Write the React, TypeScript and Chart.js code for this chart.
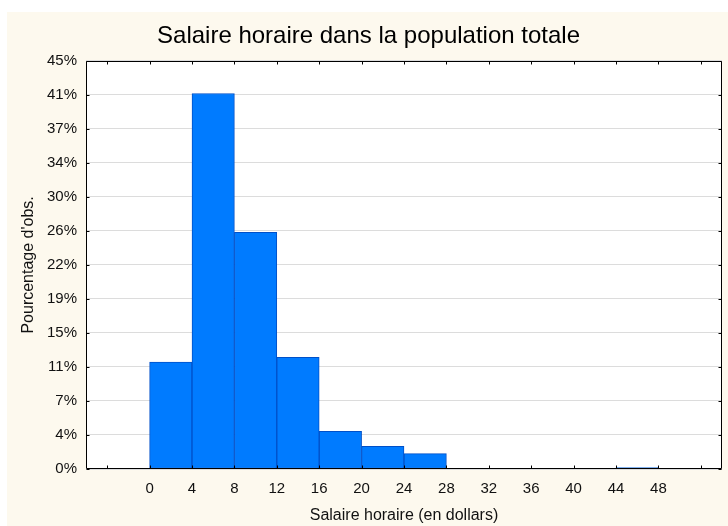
import React, { useEffect, useRef } from 'react';
import { Chart, registerables } from 'chart.js';

Chart.register(...registerables);

const chartTitle = 'Salaire horaire dans la population totale';
const xAxisTitle = 'Salaire horaire (en dollars)';
const yAxisTitle = "Pourcentage d'obs.";

// histogram bins (width 4 dollars), centre of each bin
const binCenters = [-2, 2, 6, 10, 14, 18, 22, 26, 30, 34, 38, 42, 46, 50];
const percentages = [0.05, 11.8, 41.4, 26.1, 12.3, 4.15, 2.5, 1.7, 0.05, 0.05, 0.05, 0.05, 0.15, 0.05];

const xTickValues = [-4, 0, 4, 8, 12, 16, 20, 24, 28, 32, 36, 40, 44, 48, 52];
const xTickLabels = ['', '0', '4', '8', '12', '16', '20', '24', '28', '32', '36', '40', '44', '48', ''];

const yTickValues = [0, 3.75, 7.5, 11.25, 15, 18.75, 22.5, 26.25, 30, 33.75, 37.5, 41.25, 45];
const yTickLabels = ['0%', '4%', '7%', '11%', '15%', '19%', '22%', '26%', '30%', '34%', '37%', '41%', '45%'];

const FONT = '"Liberation Sans", Arial, sans-serif';

const framePlugin = {
  id: 'frame',
  beforeDraw(chart: any) {
    const { ctx, width, height } = chart;
    ctx.save();
    ctx.fillStyle = '#ffffff';
    ctx.fillRect(0, 0, width, height);
    ctx.fillStyle = '#fdf9ee';
    ctx.fillRect(7, 12, width - 7, height - 12);
    const a = chart.chartArea;
    ctx.fillStyle = '#ffffff';
    ctx.fillRect(a.left, a.top, a.right - a.left, a.bottom - a.top);
    ctx.restore();
  },
  afterDraw(chart: any) {
    const { ctx } = chart;
    const a = chart.chartArea;
    const xs = chart.scales.x;
    const ys = chart.scales.y;
    ctx.save();
    ctx.strokeStyle = '#000000';
    ctx.lineWidth = 1;
    const L = Math.round(a.left) + 0.5;
    const R = Math.round(a.right) - 0.5;
    const T = Math.round(a.top) + 0.5;
    const B = Math.round(a.bottom) - 0.5;
    ctx.beginPath();
    ctx.rect(L, T, R - L, B - T);
    ctx.stroke();
    ctx.beginPath();
    for (const v of yTickValues) {
      const y = Math.round(ys.getPixelForValue(v)) + 0.5;
      ctx.moveTo(L, y);
      ctx.lineTo(L + 3, y);
      ctx.moveTo(R, y);
      ctx.lineTo(R - 3, y);
    }
    for (const v of xTickValues) {
      const x = Math.round(xs.getPixelForValue(v)) + 0.5;
      ctx.moveTo(x, T);
      ctx.lineTo(x, T + 3);
      ctx.moveTo(x, B);
      ctx.lineTo(x, B - 3);
    }
    ctx.stroke();
    ctx.restore();
  },
};

export default function App() {
  const ref = useRef<HTMLCanvasElement | null>(null);

  useEffect(() => {
    if (!ref.current) return;
    const chart = new Chart(ref.current, {
      type: 'bar',
      data: {
        datasets: [
          {
            data: binCenters.map((x, i) => ({ x, y: percentages[i] })),
            backgroundColor: '#007bff',
            borderColor: '#0050c8',
            borderWidth: 1,
            borderSkipped: false,
            barPercentage: 1,
            categoryPercentage: 1,
          },
        ],
      },
      options: {
        responsive: false,
        animation: false,
        layout: { padding: { left: 15, right: 6, top: 12, bottom: 0 } },
        plugins: {
          legend: { display: false },
          tooltip: { enabled: false },
          title: {
            display: true,
            text: chartTitle,
            color: '#000000',
            font: { family: FONT, size: 24, weight: 'normal' },
            padding: { top: 10, bottom: 10 },
          },
        },
        scales: {
          x: {
            type: 'linear',
            offset: false,
            min: -6,
            max: 54,
            afterBuildTicks: (scale: any) => {
              scale.ticks = xTickValues.map((v) => ({ value: v }));
            },
            afterFit: (scale: any) => {
              scale.height = 57;
            },
            ticks: {
              autoSkip: false,
              maxRotation: 0,
              padding: 3,
              color: '#111111',
              font: { family: FONT, size: 15 },
              callback: (_v: any, i: number) => xTickLabels[i],
            },
            grid: { display: false, offset: false },
            border: { display: false },
            title: {
              display: true,
              text: xAxisTitle,
              color: '#111111',
              font: { family: FONT, size: 16 },
              padding: { top: 0, bottom: 1 },
            },
          },
          y: {
            type: 'linear',
            min: 0,
            max: 45,
            afterBuildTicks: (scale: any) => {
              scale.ticks = yTickValues.map((v) => ({ value: v }));
            },
            afterFit: (scale: any) => {
              scale.width = 71;
            },
            ticks: {
              autoSkip: false,
              padding: 9,
              color: '#111111',
              font: { family: FONT, size: 15 },
              callback: (_v: any, i: number) => yTickLabels[i],
            },
            grid: {
              color: '#dcdcdc',
              lineWidth: 1,
              drawTicks: false,
            },
            border: { display: false },
            title: {
              display: true,
              text: yAxisTitle,
              color: '#111111',
              font: { family: FONT, size: 16 },
              padding: { top: 4, bottom: 0 },
            },
          },
        },
      },
      plugins: [framePlugin],
    } as any);
    return () => chart.destroy();
  }, []);

  return (
    <div style={{ position: 'absolute', left: 0, top: 0, width: 728, height: 526 }}>
      <canvas ref={ref} width={728} height={526} />
    </div>
  );
}
